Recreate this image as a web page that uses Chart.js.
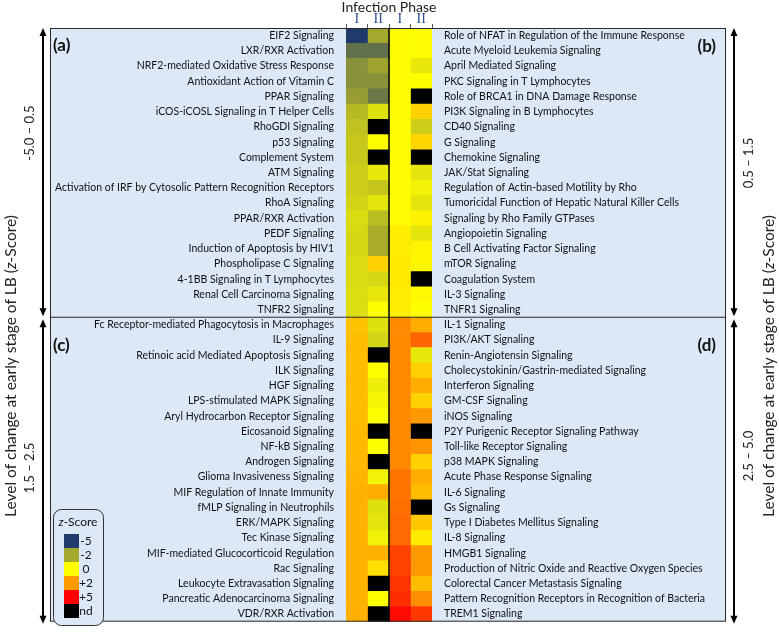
<!DOCTYPE html>
<html>
<head>
<meta charset="utf-8">
<script src="https://cdn.jsdelivr.net/npm/chart.js@4.4.1/dist/chart.umd.min.js"></script>
<style>
  html, body { margin: 0; padding: 0; background: #fff; }
  #heat { display: block; }
</style>
</head>
<body>
<canvas id="heat" width="779" height="632"></canvas>
<script>
// panel (a) - left columns, early change -5.0 to 0.5
const labelsA = [
  'EIF2 Signaling', 'LXR/RXR Activation', 'NRF2-mediated Oxidative Stress Response',
  'Antioxidant Action of Vitamin C', 'PPAR Signaling', 'iCOS-iCOSL Signaling in T Helper Cells',
  'RhoGDI Signaling', 'p53 Signaling', 'Complement System', 'ATM Signaling',
  'Activation of IRF by Cytosolic Pattern Recognition Receptors', 'RhoA Signaling',
  'PPAR/RXR Activation', 'PEDF Signaling', 'Induction of Apoptosis by HIV1',
  'Phospholipase C Signaling', '4-1BB Signaling in T Lymphocytes',
  'Renal Cell Carcinoma Signaling', 'TNFR2 Signaling',
];
const phaseIA = [-5, -3.5, -2.6, -2.6, -2.3, -1.6, -1.4, -1.25, -1.25, -1.15, -1.15, -1.0, -0.8, -0.9, -0.9, -0.8, -0.8, -0.75, -0.75];
const phaseIIA = [-2.0, -3.5, -2.1, -2.6, -3.3, -0.7, null, 0, null, -0.5, -1.3, -0.6, -1.5, -1.9, -1.9, 0.9, -0.9, -0.5, 0];

// panel (b) - right columns, early change 0.5 to 1.5
const labelsB = [
  'Role of NFAT in Regulation of the Immune Response', 'Acute Myeloid Leukemia Signaling',
  'April Mediated Signaling', 'PKC Signaling in T Lymphocytes', 'Role of BRCA1 in DNA Damage Response',
  'PI3K Signaling in B Lymphocytes', 'CD40 Signaling', 'G Signaling', 'Chemokine Signaling',
  'JAK/Stat Signaling', 'Regulation of Actin-based Motility by Rho',
  'Tumoricidal Function of Hepatic Natural Killer Cells', 'Signaling by Rho Family GTPases',
  'Angiopoietin Signaling', 'B Cell Activating Factor Signaling', 'mTOR Signaling',
  'Coagulation System', 'IL-3 Signaling', 'TNFR1 Signaling',
];
const phaseIB = [0.05, 0.05, 0.05, 0.05, 0.05, 0.05, 0.05, 0.05, 0.05, 0.05, 0.05, 0.05, 0.05, 0.35, 0.35, 0.4, 0.4, 0.35, 0.35];
const phaseIIB = [0.05, 0.05, -0.5, 0, null, 0.9, -1.1, 0.8, null, -0.6, -0.3, -0.6, 0.25, -0.6, 0.2, 0.15, null, 0.1, 0];

// panel (c) - left columns, early change 1.5 to 2.5
const labelsC = [
  'Fc Receptor-mediated Phagocytosis in Macrophages', 'IL-9 Signaling',
  'Retinoic acid Mediated Apoptosis Signaling', 'ILK Signaling', 'HGF Signaling',
  'LPS-stimulated MAPK Signaling', 'Aryl Hydrocarbon Receptor Signaling', 'Eicosanoid Signaling',
  'NF-kB Signaling', 'Androgen Signaling', 'Glioma Invasiveness Signaling',
  'MIF Regulation of Innate Immunity', 'fMLP Signaling in Neutrophils', 'ERK/MAPK Signaling',
  'Tec Kinase Signaling', 'MIF-mediated Glucocorticoid Regulation', 'Rac Signaling',
  'Leukocyte Extravasation Signaling', 'Pancreatic Adenocarcinoma Signaling', 'VDR/RXR Activation',
];
const phaseIC = [1.2, 1.3, 1.3, 1.3, 1.3, 1.3, 1.3, 1.35, 1.35, 1.4, 1.45, 1.5, 1.5, 1.5, 1.5, 1.5, 1.5, 1.5, 1.5, 1.55];
const phaseIIC = [-0.7, -1.0, null, 0, -0.4, -0.2, 0, null, 0, null, -0.3, 1.6, -0.7, -0.6, -0.3, 1.5, 0.6, null, 0, null];

// panel (d) - right columns, early change 2.5 to 5.0
const labelsD = [
  'IL-1 Signaling', 'PI3K/AKT Signaling', 'Renin-Angiotensin Signaling',
  'Cholecystokinin/Gastrin-mediated Signaling', 'Interferon Signaling', 'GM-CSF Signaling',
  'iNOS Signaling', 'P2Y Purigenic Receptor Signaling Pathway', 'Toll-like Receptor Signaling',
  'p38 MAPK Signaling', 'Acute Phase Response Signaling', 'IL-6 Signaling', 'Gs Signaling',
  'Type I Diabetes Mellitus Signaling', 'IL-8 Signaling', 'HMGB1 Signaling',
  'Production of Nitric Oxide and Reactive Oxygen Species', 'Colorectal Cancer Metastasis Signaling',
  'Pattern Recognition Receptors in Recognition of Bacteria', 'TREM1 Signaling',
];
const phaseID = [2.3, 2.3, 2.3, 2.3, 2.3, 2.3, 2.3, 2.3, 2.3, 2.3, 2.7, 2.7, 2.8, 2.9, 2.9, 3.7, 3.7, 4.0, 4.1, 4.8];
const phaseIID = [1.6, 3.0, -0.5, 0.9, 1.6, 0.9, 2.0, null, 2.1, 0.9, 1.6, 1.3, null, 1.1, 0.4, 2.0, 2.0, 1.3, 2.2, 3.9];

const phaseTicks = ['I', 'II', 'I', 'II'];
const rangeLeft = ['-5.0 – 0.5', '1.5 – 2.5'];
const rangeRight = ['0.5 – 1.5', '2.5 – 5.0'];

// z-score colour scale (null = nd)
const zStops = [-5, -2, 0, 2, 5];
const zColors = ['#203a6c', '#a4a82c', '#ffff00', '#ff9900', '#ff0000'];
const ND_COLOR = '#000000';
const legendLabels = ['-5', '-2', '0', '+2', '+5', 'nd'];

const PANEL_BG = '#dce8f6';
const FONT = 'Lato';

function hexToRgb(h) {
  const n = parseInt(h.slice(1), 16);
  return [n >> 16, (n >> 8) & 255, n & 255];
}

function zColor(z) {
  if (z === null) return ND_COLOR;
  if (z <= zStops[0]) return zColors[0];
  for (let i = 1; i < zStops.length; i++) {
    if (z <= zStops[i]) {
      const t = (z - zStops[i - 1]) / (zStops[i] - zStops[i - 1]);
      const a = hexToRgb(zColors[i - 1]);
      const b = hexToRgb(zColors[i]);
      return `rgb(${a.map((v, k) => Math.round(v + (b[k] - v) * t)).join(',')})`;
    }
  }
  return zColors[zColors.length - 1];
}

const rowsLeft = labelsA.concat(labelsC);
const rowsRight = labelsB.concat(labelsD);
const columns = [
  phaseIA.concat(phaseIC),
  phaseIIA.concat(phaseIIC),
  phaseIB.concat(phaseID),
  phaseIIB.concat(phaseIID),
];

function arrow(ctx, x, y1, y2) {
  const head = 7;
  ctx.beginPath();
  ctx.moveTo(x, y1 + head);
  ctx.lineTo(x, y2 - head);
  ctx.stroke();
  ctx.beginPath();
  ctx.moveTo(x, y1);
  ctx.lineTo(x - 3.5, y1 + head + 1);
  ctx.lineTo(x + 3.5, y1 + head + 1);
  ctx.closePath();
  ctx.fill();
  ctx.beginPath();
  ctx.moveTo(x, y2);
  ctx.lineTo(x - 3.5, y2 - head - 1);
  ctx.lineTo(x + 3.5, y2 - head - 1);
  ctx.closePath();
  ctx.fill();
}

function vText(ctx, parts, x, y, size) {
  // parts: [[text, italic], ...] drawn rotated -90 and centred at x,y
  ctx.save();
  ctx.translate(x, y);
  ctx.rotate(-Math.PI / 2);
  ctx.textBaseline = 'middle';
  ctx.textAlign = 'left';
  let total = 0;
  parts.forEach(([t, it]) => {
    ctx.font = `${it ? 'italic ' : ''}${size}px ${FONT}`;
    total += ctx.measureText(t).width;
  });
  let pos = -total / 2;
  parts.forEach(([t, it]) => {
    ctx.font = `${it ? 'italic ' : ''}${size}px ${FONT}`;
    ctx.fillText(t, pos, 0);
    pos += ctx.measureText(t).width;
  });
  ctx.restore();
}

const panelPlugin = {
  id: 'panels',
  beforeDraw(chart) {
    const { ctx, chartArea } = chart;
    const left = chart.scales.y.left;
    const right = chart.scales.y2.right;
    ctx.save();
    ctx.fillStyle = PANEL_BG;
    ctx.fillRect(left, chartArea.top, right - left, chartArea.bottom - chartArea.top);
    ctx.restore();
  },
  afterDatasetsDraw(chart) {
    const { ctx, chartArea } = chart;
    const y = chart.scales.y;
    const left = y.left;
    const right = chart.scales.y2.right;
    const split = (y.getPixelForTick(labelsA.length - 1) + y.getPixelForTick(labelsA.length)) / 2;
    const mid = chart.scales.x.getPixelForValue(2);
    ctx.save();
    ctx.strokeStyle = '#2a2a2a';
    ctx.lineWidth = 1;
    ctx.strokeRect(left + 0.5, chartArea.top + 0.5, right - left - 1, chartArea.bottom - chartArea.top - 1);
    ctx.beginPath();
    ctx.moveTo(left, split);
    ctx.lineTo(right, split);
    ctx.stroke();
    ctx.strokeStyle = '#000';
    ctx.lineWidth = 1.5;
    ctx.beginPath();
    ctx.moveTo(mid, chartArea.top);
    ctx.lineTo(mid, chartArea.bottom);
    ctx.stroke();
    ctx.restore();
  },
  afterDraw(chart) {
    const { ctx, chartArea } = chart;
    const y = chart.scales.y;
    const x2 = chart.scales.x2;
    const left = y.left;
    const right = chart.scales.y2.right;
    const split = (y.getPixelForTick(labelsA.length - 1) + y.getPixelForTick(labelsA.length)) / 2;
    const mid = chart.scales.x.getPixelForValue(2);
    ctx.save();

    // header
    ctx.fillStyle = '#222';
    ctx.font = `14px ${FONT}`;
    ctx.textAlign = 'center';
    ctx.textBaseline = 'middle';
    ctx.fillText('Infection Phase', mid, 7);

    // phase numerals above the columns
    ctx.fillStyle = '#2f4f95';
    ctx.font = '14px "Liberation Serif"';
    phaseTicks.forEach((t, i) => {
      ctx.fillText(t, x2.getPixelForTick(i), chartArea.top - 9);
    });

    // panel letters
    ctx.font = `bold 17px ${FONT}`;
    ctx.fillStyle = '#111';
    ctx.textAlign = 'left';
    ctx.fillText('(a)', left + 3, chartArea.top + 18);
    ctx.fillText('(c)', left + 3, split + 28);
    ctx.textAlign = 'right';
    ctx.fillText('(b)', right - 10, chartArea.top + 19);
    ctx.fillText('(d)', right - 10, split + 28);

    // side arrows
    ctx.strokeStyle = '#000';
    ctx.fillStyle = '#000';
    ctx.lineWidth = 2;
    const lx = left - 7;
    const rx = right + 8;
    arrow(ctx, lx, chartArea.top, split - 1);
    arrow(ctx, lx, split + 2, chartArea.bottom + 2);
    arrow(ctx, rx, chartArea.top, split - 1);
    arrow(ctx, rx, split + 2, chartArea.bottom + 2);

    // range labels
    ctx.fillStyle = '#222';
    vText(ctx, [[rangeLeft[0], false]], lx - 13, 133, 13);
    vText(ctx, [[rangeLeft[1], false]], lx - 13, 468, 13);
    vText(ctx, [[rangeRight[0], false]], rx + 15, 163, 13);
    vText(ctx, [[rangeRight[1], false]], rx + 15, 456, 13);

    // axis titles
    const title = [['Level of change at early stage of LB (', false], ['z', true], ['-Score)', false]];
    vText(ctx, title, 11, 366, 15.5);
    vText(ctx, title, 769, 366, 15.5);

    // z-score legend
    const bx = left + 3;
    const by = 509;
    ctx.fillStyle = PANEL_BG;
    ctx.strokeStyle = '#333';
    ctx.lineWidth = 1;
    ctx.beginPath();
    ctx.roundRect(bx + 0.5, by + 0.5, 50, 116, 8);
    ctx.fill();
    ctx.stroke();
    ctx.fillStyle = '#111';
    ctx.textBaseline = 'middle';
    ctx.font = `italic 12px ${FONT}`;
    const zw = ctx.measureText('z').width;
    ctx.font = `12px ${FONT}`;
    const sw = ctx.measureText('-Score').width;
    const tx = bx + 25 - (zw + sw) / 2;
    ctx.textAlign = 'left';
    ctx.font = `italic 12px ${FONT}`;
    ctx.fillText('z', tx, by + 13);
    ctx.font = `12px ${FONT}`;
    ctx.fillText('-Score', tx + zw, by + 13);
    const swatches = zColors.concat([ND_COLOR]);
    ctx.textAlign = 'center';
    ctx.font = `12px ${FONT}`;
    swatches.forEach((c, i) => {
      const sy = by + 25 + i * 14;
      ctx.fillStyle = c;
      ctx.fillRect(bx + 11, sy, 15, 14);
      ctx.fillStyle = '#111';
      ctx.fillText(legendLabels[i], bx + 33, sy + 7);
    });

    ctx.restore();
  },
};

new Chart(document.getElementById('heat'), {
  type: 'bar',
  data: {
    labels: rowsLeft,
    datasets: columns.map((col, i) => ({
      label: phaseTicks[i],
      data: col.map(() => 1),
      backgroundColor: col.map(zColor),
      borderWidth: 0,
      barPercentage: 1,
      categoryPercentage: 1,
      stack: 'cells',
    })),
  },
  options: {
    indexAxis: 'y',
    responsive: false,
    animation: false,
    events: [],
    devicePixelRatio: 1,
    layout: { padding: { left: 50, right: 53, top: 12, bottom: 7 } },
    plugins: {
      legend: { display: false },
      tooltip: { enabled: false },
    },
    scales: {
      x: { type: 'linear', stacked: true, min: 0, max: 4, display: false },
      x2: {
        type: 'category',
        position: 'top',
        labels: phaseTicks,
        offset: true,
        grid: { offset: true, drawOnChartArea: false, tickLength: 4, color: '#555' },
        border: { display: false },
        ticks: { display: false },
        afterFit: (s) => { s.height = 16; },
      },
      y: {
        stacked: true,
        offset: true,
        grid: { display: false },
        border: { display: false },
        ticks: { autoSkip: false, padding: 4, color: '#111', font: { family: FONT, size: 10.5 } },
        afterFit: (s) => { s.width = 296; },
      },
      y2: {
        type: 'category',
        position: 'right',
        labels: rowsRight,
        offset: true,
        grid: { display: false },
        border: { display: false },
        ticks: { autoSkip: false, padding: 4, color: '#111', font: { family: FONT, size: 10.5 } },
        afterFit: (s) => { s.width = 294; },
      },
    },
  },
  plugins: [panelPlugin],
});
</script>
</body>
</html>
